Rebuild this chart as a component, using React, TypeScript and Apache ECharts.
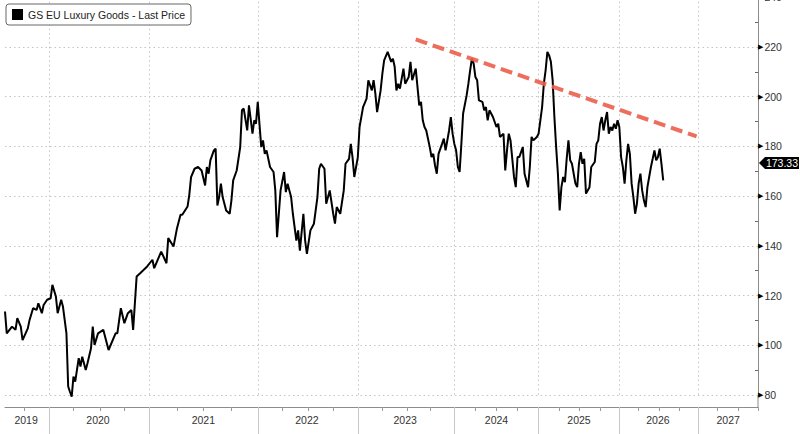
import React, { useEffect, useRef } from 'react';
import * as echarts from 'echarts';

// ---- Axis structure ----
const YEARS = [2019, 2020, 2021, 2022, 2023, 2024, 2025, 2026, 2027];
// number of weekly periods shown per year (2019 and 2027 partial)
const YEAR_WEEKS = [25, 57, 62, 57, 55, 48, 46, 45, 35];

// ---- Series: week index along the axis, last price ----
const WEEKS = [
  0, 1, 4, 6, 7, 9, 10, 13, 14, 16, 18, 19, 21, 22, 24, 26, 27, 29, 30, 32, 33, 35, 36, 37, 38, 39, 40, 42, 43, 44, 46, 47,
  49, 50, 51, 53, 56, 59, 63, 64, 66, 68, 70, 72, 73, 75, 77, 81, 84, 85, 89, 92, 93, 96, 98, 100, 101, 104, 105, 106, 108,
  110, 112, 114, 115, 116, 117, 119, 120, 121, 122, 123, 124, 126, 128, 129, 130, 132, 134, 135, 136, 138, 139, 141, 142,
  143, 144, 146, 147, 148, 149, 151, 153, 154, 155, 157, 159, 160, 161, 163, 164, 166, 167, 168, 170, 171, 172, 174, 176,
  178, 179, 180, 182, 183, 185, 187, 188, 189, 191, 193, 194, 196, 197, 198, 199, 201, 202, 204, 206, 207, 209, 210, 211,
  212, 214, 215, 216, 218, 219, 220, 221, 222, 223, 224, 225, 227, 228, 230, 231, 232, 234, 235, 236, 237, 238, 239, 240,
  242, 243, 244, 245, 246, 247, 249, 250, 251, 253, 254, 255, 256, 257, 258, 259, 260, 261, 263, 264, 265, 266, 267, 268,
  269, 270, 272, 273, 274, 275, 276, 278, 280, 281, 282, 284, 285, 286, 287, 288, 290, 291, 292, 293, 295, 296, 298, 299,
  300, 301, 303, 304, 306, 307, 308, 309, 310, 311, 312, 313, 314, 315, 316, 317, 318, 319, 320, 321, 322, 323, 325, 326,
  327, 328, 329, 330, 331, 333, 334, 336, 337, 338, 339, 340, 341, 342, 343, 344, 345, 346, 347, 348, 349, 350, 351, 352,
  353, 354, 355, 356, 357, 358, 359, 360, 361, 362, 363, 364, 365, 366, 367, 368, 369, 370, 371, 372, 373, 374, 375,
];
const PRICES = [
  113.6, 104.8, 107.5, 106.2, 110.9, 107.5, 102.1, 106.8, 110.2, 114.9, 114.2, 116.9, 112.9, 116.2, 118.3, 118.9, 124.3,
  119.6, 112.9, 118.3, 115.6, 104.8, 83.4, 81.3, 79.3, 87.4, 85.4, 94.8, 91.4, 95.4, 90.1, 92.8,
  98.8, 107.5, 100.1, 104.8, 106.2, 98.1, 104.8, 104.8, 114.9, 108.9, 112.9, 114.2, 106.2, 127.7, 129.0, 131.7, 134.4,
  131.0, 137.7, 133.0, 143.1, 139.7, 147.1, 152.5, 152.5, 155.8, 160.5, 167.6, 171.0,
  171.7, 170.3, 164.3, 171.7, 169.0, 174.4, 178.4, 179.1, 156.2, 159.6, 165.0, 159.6, 154.2, 152.9, 158.3, 166.3, 170.3,
  179.7, 194.5, 195.2, 186.4, 196.5, 185.1, 190.5,
  189.1, 197.9, 179.7, 182.4, 177.0, 178.4, 171.7, 169.7, 162.3, 143.5, 162.3, 169.7, 161.6, 165.0, 159.6, 152.9, 142.1,
  146.2, 138.1, 152.9, 142.1, 136.8, 146.2, 148.9,
  159.6, 171.0, 173.0, 171.0, 156.9, 162.3, 152.9, 148.9, 155.6, 152.9, 162.3, 173.0, 175.0, 181.0, 175.6, 167.7, 175.6,
  187.8, 195.8, 199.2, 206.6, 202.5, 206.6, 201.2,
  193.8, 202.5, 209.3, 214.6, 218.0, 216.0, 214.0, 215.3, 212.0, 202.5, 205.2, 203.2, 211.3, 205.2, 207.9, 214.0, 206.6,
  211.3, 203.9, 196.5, 197.9, 190.5, 187.8, 186.4,
  179.7, 175.7, 177.0, 172.3, 169.0, 177.0, 181.0, 183.1, 178.4, 186.4, 191.8, 185.1, 181.0, 178.4, 171.7, 169.7, 181.0,
  193.2, 200.5, 205.2, 210.6, 215.3, 213.3, 207.9,
  206.6, 198.5, 197.9, 194.5, 195.8, 190.5, 194.5, 191.8, 187.8, 189.1, 183.8, 185.1, 170.3, 178.4, 185.1, 182.4, 167.7,
  163.6, 175.7, 175.7, 179.7, 169.0, 163.6, 171.7,
  183.8, 182.4, 183.8, 185.1, 195.8, 205.2, 210.6, 218.0, 216.6, 214.0, 206.6, 191.8, 179.7, 169.0, 154.2, 163.6, 167.7,
  165.6, 175.0, 182.4, 174.4, 173.0, 165.0, 163.6,
  173.0, 177.7, 173.0, 175.0, 161.0, 163.6, 171.7, 173.7, 181.0, 182.4, 189.1, 191.8, 186.4, 190.5, 193.8, 185.1, 187.8,
  186.4, 189.1, 187.1, 190.5, 187.8, 175.7, 171.7,
  165.0, 174.4, 181.0, 177.0, 165.0, 159.6, 152.9, 156.9, 165.0, 169.0, 162.3, 158.3, 155.6, 163.6, 167.7, 171.7, 175.0,
  178.4, 174.4, 175.7, 179.1, 173.0, 166.3,
];
const LAST_PRICE = 173.33;
// trend line endpoints: [week index, price]
const TREND_START = [234, 223.0];
const TREND_END = [394, 184.0];

const SERIES_NAME = 'GS EU Luxury Goods - Last Price';
const FONT = 'Liberation Sans';

// ---- Derived axis helpers ----
const CATEGORIES: string[] = [];
const YEAR_START: number[] = [];
YEARS.forEach((y, yi) => {
  YEAR_START.push(CATEGORIES.length);
  for (let k = 0; k < YEAR_WEEKS[yi]; k++) CATEGORIES.push(`${y}-W${k}`);
});
const LABEL_IDX = new Set(YEARS.map((_, yi) => YEAR_START[yi] + Math.floor(YEAR_WEEKS[yi] / 2)));
const BOUNDARY_IDX = new Set(YEAR_START.filter((s) => s > 0));
const QUARTER_IDX = new Set<number>();
YEARS.forEach((_, yi) => {
  const s = YEAR_START[yi];
  const c = YEAR_WEEKS[yi];
  if (yi === 0) {
    const len = YEAR_WEEKS[1];
    for (let q = 1; q <= 3; q++) {
      const p = s + c - Math.round((len * q) / 4);
      if (p > s) QUARTER_IDX.add(p);
    }
  } else {
    const len = yi === YEARS.length - 1 ? YEAR_WEEKS[yi - 1] : c;
    for (let q = 1; q <= 3; q++) {
      const p = s + Math.round((len * q) / 4);
      if (p < s + c) QUARTER_IDX.add(p);
    }
  }
});

const SERIES_DATA = WEEKS.map((w, i) => [w, PRICES[i]]);

export default function App() {
  const ref = useRef<HTMLDivElement>(null);
  useEffect(() => {
    if (!ref.current) return;
    const chart = echarts.init(ref.current, null, { renderer: 'svg' });
    const dotted = { color: '#c4c4c4', type: [1.5, 3] as number[], width: 1 };
    chart.setOption({
      animation: false,
      backgroundColor: '#ffffff',
      textStyle: { fontFamily: FONT },
      grid: { left: 5, right: 42, top: -2.8, bottom: 39, containLabel: false, outerBoundsMode: 'none' },
      legend: {
        left: 6,
        top: 4,
        padding: [5, 6],
        itemWidth: 11,
        itemHeight: 11,
        icon: 'rect',
        borderColor: '#666',
        borderWidth: 1,
        borderRadius: 3,
        backgroundColor: '#fff',
        selectedMode: false,
        textStyle: { fontSize: 10.5, color: '#222', fontFamily: FONT },
        data: [SERIES_NAME],
      },
      graphic: [
        {
          type: 'line',
          silent: true,
          shape: { x1: 758, y1: 395, x2: 758, y2: 407 },
          style: { stroke: '#8c8c8c', lineWidth: 1 },
        },
      ],
      xAxis: [
        {
          type: 'category',
          data: CATEGORIES,
          boundaryGap: false,
          offset: 12,
          axisLine: { show: true, lineStyle: { color: '#8c8c8c', width: 1 } },
          axisTick: {
            show: true,
            length: 27,
            interval: (i: number) => BOUNDARY_IDX.has(i),
            lineStyle: { color: '#c8c8c8' },
          },
          axisLabel: {
            interval: (i: number) => LABEL_IDX.has(i),
            formatter: (v: string) => v.slice(0, 4),
            color: '#333',
            fontSize: 10.5,
            fontFamily: FONT,
            margin: 7,
          },
          splitLine: { show: true, interval: (i: number) => BOUNDARY_IDX.has(i), lineStyle: dotted },
        },
        {
          type: 'category',
          data: CATEGORIES,
          boundaryGap: false,
          position: 'bottom',
          offset: 12,
          axisLine: { show: false },
          axisTick: {
            show: true,
            length: 4,
            interval: (i: number) => QUARTER_IDX.has(i),
            lineStyle: { color: '#9a9a9a' },
          },
          axisLabel: { show: false },
          splitLine: { show: false },
        },
      ],
      yAxis: {
        type: 'value',
        position: 'right',
        min: 80,
        max: 240,
        interval: 20,
        axisLine: { show: true, lineStyle: { color: '#8c8c8c', width: 1 } },
        axisTick: { show: false, inside: true },
        minorTick: { show: true, splitNumber: 2, length: 3, lineStyle: { color: '#666' } },
        splitLine: { show: true, lineStyle: dotted },
        axisLabel: {
          margin: 0,
          formatter: (v: number) => `{t|▶}{v|${v}}`,
          rich: {
            t: { fontSize: 7, color: '#000', padding: [0, 1, 0, 0], fontFamily: 'DejaVu Sans' },
            v: { fontSize: 10.5, color: '#333', fontFamily: FONT },
          },
        },
      },
      series: [
        {
          name: SERIES_NAME,
          type: 'line',
          xAxisIndex: 0,
          data: SERIES_DATA,
          symbol: 'none',
          showSymbol: false,
          clip: false,
          lineStyle: { color: '#000', width: 2 },
          itemStyle: { color: '#000' },
          markLine: {
            silent: true,
            symbol: ['none', 'none'],
            label: { show: false },
            lineStyle: { color: '#eb5e4b', width: 4, type: [12, 6], opacity: 0.9 },
            data: [[{ coord: TREND_START }, { coord: TREND_END }]],
          },
          markPoint: {
            silent: true,
            symbol: 'path://M0,6L6,0L40,0L40,12L6,12Z',
            symbolSize: [40, 12],
            symbolKeepAspect: false,
            symbolOffset: [21, 0],
            itemStyle: { color: '#000' },
            label: {
              show: true,
              position: 'inside',
              offset: [3, 0],
              color: '#fff',
              fontSize: 10.5,
              fontFamily: FONT,
              formatter: () => LAST_PRICE.toFixed(2),
            },
            data: [{ coord: [CATEGORIES.length - 1, LAST_PRICE] }],
          },
        },
      ],
    });
    return () => chart.dispose();
  }, []);
  return <div ref={ref} style={{ position: 'fixed', left: 0, top: 0, width: 800, height: 434 }} />;
}
